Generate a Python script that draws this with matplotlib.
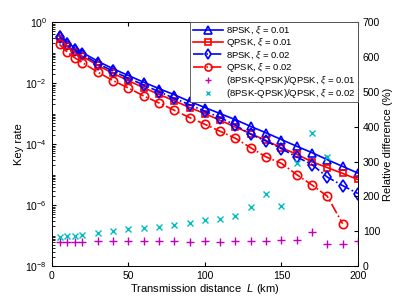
import numpy as np
import matplotlib
matplotlib.use("Agg")
import matplotlib.pyplot as plt
from matplotlib.ticker import LogLocator, NullFormatter, FixedLocator

plt.rcParams['font.family'] = ['Liberation Sans', 'DejaVu Sans']
plt.rcParams['mathtext.fontset'] = 'custom'
plt.rcParams['mathtext.rm'] = 'Liberation Sans'
plt.rcParams['mathtext.it'] = 'Liberation Sans:italic'

# distances (km)
dist = [5, 10, 15, 20, 30, 40, 50, 60, 70, 80, 90, 100, 110, 120, 130, 140, 150, 160, 170, 180, 190, 200]

# key rate, log10 values
log_8psk_001 = [-0.42, -0.65, -0.85, -1.0, -1.28, -1.53, -1.75, -1.97, -2.18, -2.38, -2.6, -2.8,
                -3.0, -3.2, -3.42, -3.63, -3.85, -4.07, -4.28, -4.51, -4.73, -4.95]
log_qpsk_001 = [-0.55, -0.78, -0.97, -1.12, -1.42, -1.68, -1.92, -2.15, -2.37, -2.58, -2.8, -3.0,
                -3.22, -3.44, -3.66, -3.88, -4.12, -4.33, -4.58, -4.77, -4.96, -5.16]
log_8psk_002 = [-0.48, -0.71, -0.91, -1.06, -1.36, -1.61, -1.84, -2.06, -2.28, -2.5, -2.71, -2.92,
                -3.13, -3.38, -3.68, -3.9, -4.15, -4.42, -4.67, -5.08, -5.36, -5.62]
dist_q2 = dist[:-1]
log_qpsk_002 = [-0.73, -0.98, -1.17, -1.33, -1.64, -1.92, -2.16, -2.42, -2.65, -2.89, -3.13, -3.35,
                -3.58, -3.81, -4.12, -4.42, -4.63, -5.0, -5.34, -5.71, -6.61]

# relative difference (%)
rel_001 = [68, 69, 69, 70, 72, 72, 73, 73, 72, 72, 70, 71, 70, 72, 72, 72, 75, 76, 98, 63, 64, 72]
dist_r2 = dist[:20]
rel_002 = [84, 85, 86, 89, 95, 100, 106, 108, 113, 118, 124, 131, 136, 145, 171, 208, 173, 295, 382, 312]

fig = plt.figure(figsize=(3.99, 2.99), dpi=100)
ax = fig.add_axes([0.130, 0.110, 0.767, 0.816])

lw = 1.2
ms = 6
ax.semilogy(dist, 10 ** np.array(log_8psk_001), '-', color='b', marker='^', ms=ms, mfc='none', lw=lw, mew=lw,
            label=r'8PSK, $\xi$ = 0.01')
ax.semilogy(dist, 10 ** np.array(log_qpsk_001), '-', color='r', marker='s', ms=ms - 1.5, mfc='none', lw=lw, mew=lw,
            label=r'QPSK, $\xi$ = 0.01')
ax.semilogy(dist, 10 ** np.array(log_8psk_002), '-.', color='b', marker='d', ms=ms, mfc='none', lw=lw, mew=lw,
            label=r'8PSK, $\xi$ = 0.02')
ax.semilogy(dist_q2, 10 ** np.array(log_qpsk_002), '-.', color='r', marker='o', ms=ms, mfc='none', lw=lw, mew=lw,
            label=r'QPSK, $\xi$ = 0.02')

ax.set_xlim(0, 200)
ax.set_ylim(1e-8, 1)
ax.yaxis.set_major_locator(FixedLocator([1e-8, 1e-6, 1e-4, 1e-2, 1]))
ax.yaxis.set_minor_locator(LogLocator(base=10, subs=np.arange(1, 10), numticks=50))
ax.yaxis.set_minor_formatter(NullFormatter())
ax.set_xticks([0, 50, 100, 150, 200])
ax.tick_params(axis='both', which='both', direction='in', labelsize=7.5, top=True)
ax.tick_params(axis='y', which='minor', length=2)
ax.tick_params(axis='both', which='major', length=3)
ax.set_xlabel(r'Transmission distance  $L$ (km)', fontsize=8, labelpad=1)
ax.set_ylabel('Key rate', fontsize=8, labelpad=1)

ax2 = ax.twinx()
ax2.plot(dist, rel_001, linestyle='none', marker='+', color='m', ms=5.5, mew=1,
         label=r'(8PSK-QPSK)/QPSK, $\xi$ = 0.01')
ax2.plot(dist_r2, rel_002, linestyle='none', marker='x', color='c', ms=4, mew=1,
         label=r'(8PSK-QPSK)/QPSK, $\xi$ = 0.02')
ax2.set_ylim(0, 700)
ax2.set_yticks(range(0, 701, 100))
ax2.tick_params(axis='y', direction='in', labelsize=7.5, length=3)
ax2.set_ylabel('Relative difference (%)', fontsize=8, labelpad=2)

for a in (ax, ax2):
    for s in a.spines.values():
        s.set_linewidth(0.6)

h1, l1 = ax.get_legend_handles_labels()
h2, l2 = ax2.get_legend_handles_labels()
leg = ax2.legend(h1 + h2, l1 + l2, loc='upper right', fontsize=6.8, frameon=True, fancybox=False,
                 framealpha=1, edgecolor='0.3', borderaxespad=0, handlelength=3.2, handletextpad=0.3,
                 labelspacing=0.0, borderpad=0.25, markerscale=0.85)
leg.get_frame().set_linewidth(0.6)

fig.savefig('out.png', dpi=100)
